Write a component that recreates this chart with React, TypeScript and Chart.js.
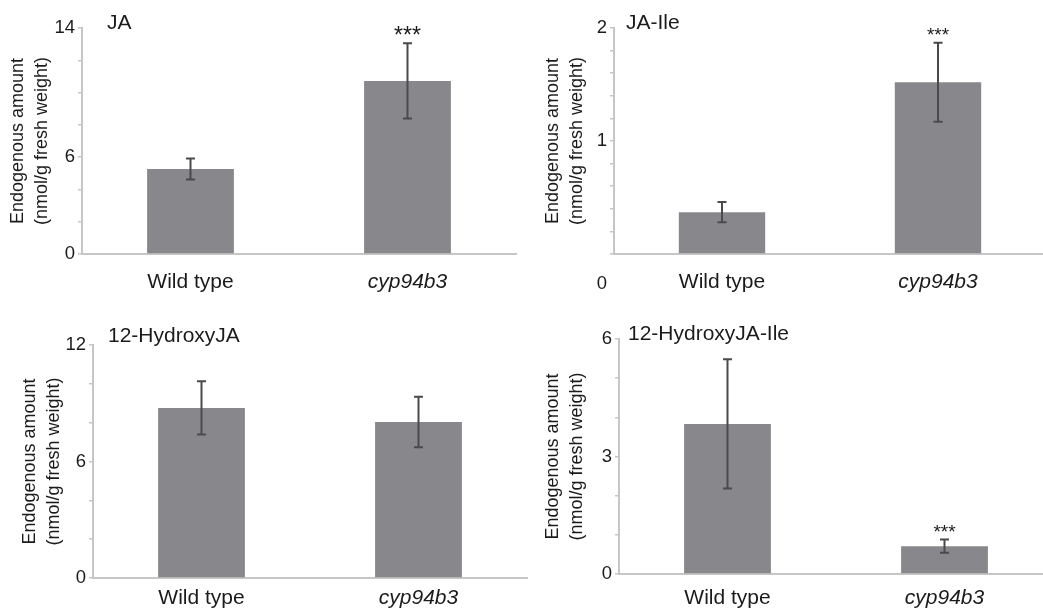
import React, { useEffect, useRef } from 'react';
import { Chart, registerables } from 'chart.js';

Chart.register(...registerables);

const categories = ['Wild type', 'cyp94b3'];
const yAxisTitle = ['Endogenous amount', '(nmol/g fresh weight)'];

const jaValues = [5.27, 10.72];
const jaErrors = [0.65, 2.33];
const jaStars = ['', '***'];
const jaTickLabels = [0, 6, 14];

const jaIleValues = [0.37, 1.52];
const jaIleErrors = [0.09, 0.35];
const jaIleStars = ['', '***'];
const jaIleTickLabels = [0, 1, 2];

const hydroxyJaValues = [8.76, 8.04];
const hydroxyJaErrors = [1.37, 1.3];
const hydroxyJaStars = ['', ''];
const hydroxyJaTickLabels = [0, 6, 12];

const hydroxyJaIleValues = [3.83, 0.71];
const hydroxyJaIleErrors = [1.65, 0.17];
const hydroxyJaIleStars = ['', '***'];
const hydroxyJaIleTickLabels = [0, 3, 6];

const FONT = '"Liberation Sans", Arial, sans-serif';
const TEXT = '#1b1b1b';
const AXIS = '#c6c6c6';
const BAR = '#88888c';
const ERR = '#4a4a4a';
const XFONT = 21;

const panels = [
  {
    title: 'JA', values: jaValues, errors: jaErrors, stars: jaStars, tickLabels: jaTickLabels,
    max: 14, step: 2, zeroBelow: false,
    box: { left: 0, top: 0, width: 530, height: 300 },
    padLeft: 6, yWidth: 76, padTop: 28, padRight: 14, xHeight: 46, xPad: 16,
    titleDx: 25, titleDy: -5, starSize: 23,
  },
  {
    title: 'JA-Ile', values: jaIleValues, errors: jaIleErrors, stars: jaIleStars, tickLabels: jaIleTickLabels,
    max: 2, step: 0.2, zeroBelow: true,
    box: { left: 520, top: 0, width: 540, height: 300 },
    padLeft: 21, yWidth: 73, padTop: 28, padRight: 14, xHeight: 46, xPad: 16,
    titleDx: 12, titleDy: -5, starSize: 19,
  },
  {
    title: '12-HydroxyJA', values: hydroxyJaValues, errors: hydroxyJaErrors, stars: hydroxyJaStars, tickLabels: hydroxyJaTickLabels,
    max: 12, step: 2, zeroBelow: false,
    box: { left: 0, top: 300, width: 540, height: 308 },
    padLeft: 18, yWidth: 75, padTop: 45, padRight: 13, xHeight: 30, xPad: 8,
    titleDx: 15, titleDy: -9, starSize: 19,
  },
  {
    title: '12-HydroxyJA-Ile', values: hydroxyJaIleValues, errors: hydroxyJaIleErrors, stars: hydroxyJaIleStars, tickLabels: hydroxyJaIleTickLabels,
    max: 6, step: 1, zeroBelow: false,
    box: { left: 520, top: 300, width: 540, height: 308 },
    padLeft: 21, yWidth: 78, padTop: 39, padRight: 7, xHeight: 34, xPad: 12,
    titleDx: 9, titleDy: -5, starSize: 19,
  },
];

type PanelCfg = typeof panels[number];

function isLabelled(v: number, list: number[]) {
  return list.some((t) => Math.abs(t - v) < 1e-6);
}

function overlayPlugin(p: PanelCfg) {
  return {
    id: 'overlay',
    afterDatasetsDraw(chart: any) {
      const ctx = chart.ctx;
      const meta = chart.getDatasetMeta(0);
      const y = chart.scales.y;
      ctx.save();
      p.values.forEach((v, i) => {
        const bar = meta.data[i];
        const x = bar.x;
        const hi = y.getPixelForValue(v + p.errors[i]);
        const lo = y.getPixelForValue(v - p.errors[i]);
        ctx.strokeStyle = ERR;
        ctx.lineWidth = 2;
        ctx.beginPath();
        ctx.moveTo(x, hi);
        ctx.lineTo(x, lo);
        ctx.moveTo(x - 4.5, hi);
        ctx.lineTo(x + 4.5, hi);
        ctx.moveTo(x - 4.5, lo);
        ctx.lineTo(x + 4.5, lo);
        ctx.stroke();
        if (p.stars[i]) {
          ctx.fillStyle = TEXT;
          ctx.font = `${p.starSize}px ${FONT}`;
          ctx.textAlign = 'center';
          ctx.textBaseline = 'middle';
          ctx.fillText(p.stars[i], x, hi - 7);
        }
      });
      ctx.restore();
    },
    afterDraw(chart: any) {
      const ctx = chart.ctx;
      const area = chart.chartArea;
      ctx.save();
      ctx.fillStyle = TEXT;
      ctx.font = `21px ${FONT}`;
      ctx.textAlign = 'left';
      ctx.textBaseline = 'middle';
      ctx.fillText(p.title, area.left + p.titleDx, area.top + p.titleDy);
      if (p.zeroBelow) {
        const ys = chart.scales.y;
        const xs = chart.scales.x;
        const ty = xs.top + p.xPad + (XFONT * 1.2) / 2 + 1;
        ctx.font = `18.5px ${FONT}`;
        ctx.textAlign = 'right';
        ctx.textBaseline = 'middle';
        ctx.fillText('0', ys.right - 4 - 3, ty);
      }
      ctx.restore();
    },
  };
}

function makeChart(canvas: HTMLCanvasElement, p: PanelCfg) {
  return new Chart(canvas, {
    type: 'bar',
    data: {
      labels: categories,
      datasets: [
        {
          data: p.values,
          backgroundColor: BAR,
          borderWidth: 0,
          barPercentage: 0.4,
          categoryPercentage: 1,
        },
      ],
    },
    options: {
      animation: false,
      responsive: false,
      maintainAspectRatio: false,
      devicePixelRatio: 1,
      layout: { padding: { left: p.padLeft, top: p.padTop, right: p.padRight, bottom: 0 } },
      plugins: { legend: { display: false }, tooltip: { enabled: false }, title: { display: false } },
      scales: {
        x: {
          grid: { display: false, drawTicks: false },
          border: { display: true, color: AXIS, width: 2 },
          ticks: {
            color: TEXT,
            padding: p.xPad,
            autoSkip: false,
            maxRotation: 0,
            font: (c: any) => ({ family: FONT, size: XFONT, style: c.index === 1 ? 'italic' : 'normal' }),
          },
          afterFit: (s: any) => { s.height = p.xHeight; },
        },
        y: {
          min: 0,
          max: p.max,
          grid: { display: true, drawOnChartArea: false, drawTicks: true, tickLength: 4, color: AXIS, lineWidth: 1.5 },
          border: { display: true, color: AXIS, width: 2 },
          ticks: {
            stepSize: p.step,
            autoSkip: false,
            color: TEXT,
            padding: 3,
            font: { family: FONT, size: 18.5 },
            callback: (v: any) => {
              const n = Number(v);
              if (p.zeroBelow && Math.abs(n) < 1e-6) return '';
              return isLabelled(n, p.tickLabels) ? String(Math.round(n)) : '';
            },
          },
          title: {
            display: true,
            text: yAxisTitle,
            color: TEXT,
            padding: 0,
            font: { family: FONT, size: 18, lineHeight: '24px' },
          },
          afterFit: (s: any) => { s.width = p.yWidth; },
        },
      },
    },
    plugins: [overlayPlugin(p)],
  } as any);
}

export default function App() {
  const refs = useRef<(HTMLCanvasElement | null)[]>([]);
  useEffect(() => {
    const charts = panels.map((p, i) => makeChart(refs.current[i] as HTMLCanvasElement, p));
    return () => charts.forEach((c) => c.destroy());
  }, []);
  return (
    <div style={{ position: 'absolute', left: 0, top: 0, width: 1043, height: 608, overflow: 'hidden', background: '#fff' }}>
      {panels.map((p, i) => (
        <div key={i} style={{ position: 'absolute', left: p.box.left, top: p.box.top, width: p.box.width, height: p.box.height }}>
          <canvas
            ref={(el) => { refs.current[i] = el; }}
            width={p.box.width}
            height={p.box.height}
            style={{ width: p.box.width, height: p.box.height, display: 'block' }}
          />
        </div>
      ))}
    </div>
  );
}
